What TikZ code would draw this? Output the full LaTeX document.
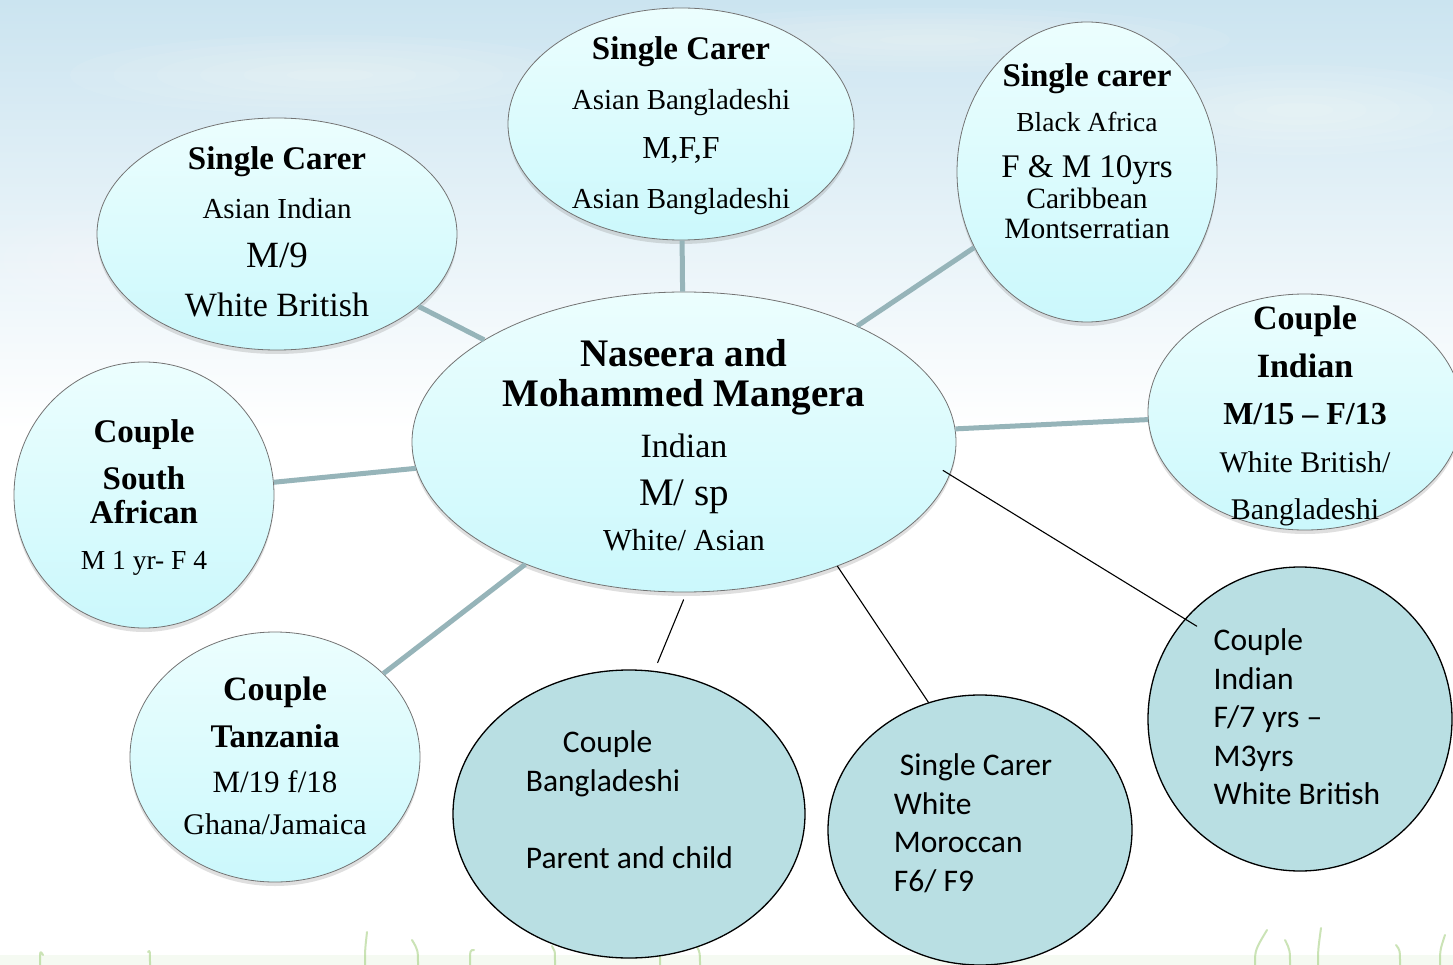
\documentclass[tikz,border=0pt]{standalone}
\usepackage{fontspec}
\setmainfont{Liberation Serif}
\newfontfamily\calibrifont{Carlito}
\usetikzlibrary{shapes.geometric,shadows}
\newcommand\fsz[2]{\fontsize{#1}{#2}\selectfont}

\definecolor{skyblue}{RGB}{203,228,240}
\definecolor{nodetop}{RGB}{236,254,254}
\definecolor{nodebot}{RGB}{203,248,252}
\definecolor{darkfill}{RGB}{185,223,227}
\definecolor{spoke}{RGB}{150,180,185}
\definecolor{grass}{RGB}{140,195,95}

\begin{document}
\begin{tikzpicture}[x=1pt, y=-1pt, line cap=round, line join=round,
  lightnode/.style={ellipse, draw=black!55, line width=0.8pt,
    top color=nodetop, bottom color=nodebot,
    drop shadow={shadow xshift=0pt, shadow yshift=-4pt, opacity=0.25}},
  darknode/.style={ellipse, draw=black, line width=1.3pt, fill=darkfill},
  seriftext/.style={align=center, inner sep=0pt},
  calitext/.style={align=left, inner sep=0pt, font=\calibrifont\fsz{31.5}{38.5}},
  spokeline/.style={draw=spoke, line width=5pt, line cap=butt},
  thinline/.style={draw=black, line width=1.1pt}]

\useasboundingbox (0,0) rectangle (1453,965);
\clip (0,0) rectangle (1453,965);

% sky and grass
\fill[white] (0,0) rectangle (1453,965);
\shade[top color=skyblue, bottom color=white] (0,0) rectangle (1453,430);
\foreach \cx/\cy/\rx/\ry in {330/75/260/40, 930/40/300/32, 1300/110/200/45, 120/260/140/50}
  \foreach \k in {1,...,6}
    \fill[white, opacity=0.07] (\cx,\cy) ellipse ({\rx*\k/6} and {\ry*\k/6});
\fill[grass, opacity=0.08] (0,955) rectangle (1453,965);
\foreach \gx/\gtop/\gbend in {40/955/3, 150/952/-2, 365/932/2, 418/940/-6, 470/950/4,
    555/946/-3, 660/948/8, 700/938/-10, 1255/930/12, 1290/940/-5, 1318/928/3,
    1400/945/-4, 1440/935/5}
  \draw[grass, line width=2pt, opacity=0.45] (\gx,965) .. controls (\gx,950) .. (\gx+\gbend,\gtop);

% outer circles
\node[lightnode, minimum width=360pt, minimum height=232pt] (scIndian) at (277,234) {};
\node[lightnode, minimum width=346pt, minimum height=232pt] (scBangla) at (681,124) {};
\node[lightnode, minimum width=260pt, minimum height=300pt] (scAfrica) at (1087,172) {};
\node[lightnode, minimum width=314pt, minimum height=236pt] (cpIndian) at (1305,412) {};
\node[lightnode, minimum width=260pt, minimum height=266pt] (cpSouth) at (144,495) {};
\node[lightnode, minimum width=290pt, minimum height=250pt] (cpTanz) at (275,757) {};
\node[darknode, minimum width=352pt, minimum height=288pt] (cpBangla) at (629,814) {};
\node[darknode, minimum width=304pt, minimum height=270pt] (scMorocco) at (980,830) {};
\node[darknode, minimum width=304pt, minimum height=304pt] (cpSeven) at (1300,719) {};

% centre
\node[lightnode, minimum width=544pt, minimum height=300pt] (main) at (684,442) {};

% spokes
\foreach \n in {scIndian, scBangla, scAfrica, cpIndian, cpSouth, cpTanz}
  \draw[spokeline] (main) -- (\n);
\draw[thinline, shorten <=8pt, shorten >=9pt] (main.-89) -- (cpBangla.80);
\draw[thinline] (main.-39) -- (scMorocco.112);
\draw[thinline, shorten <=-8pt, shorten >=-14pt] (main.-7) -- (cpSeven.139);

% texts
\node[seriftext, font=\fsz{39}{40}] (mainT) at (684,445)
  {\textbf{Naseera and}\\\textbf{Mohammed Mangera}\\[11pt]{\fsz{34}{34}Indian}\\[8pt]M/ sp\\[5pt]{\fsz{30.5}{31}White/ Asian}};
\node[seriftext, font=\fsz{30}{49}] (scIndianT) at (277,232)
  {{\bfseries\fsz{33}{33}Single Carer}\\{\fsz{29}{29}Asian Indian}\\{\fsz{37}{37}M/9}\\{\fsz{34}{34}White British}};
\node[seriftext, font=\fsz{29}{49.5}] (scBanglaT) at (681,125.5)
  {{\bfseries\fsz{33}{33}Single Carer}\\Asian Bangladeshi\\{\fsz{32}{32}M,F,F}\\Asian Bangladeshi};
\node[seriftext, font=\fsz{29.5}{30}] (scAfricaT) at (1087,151)
  {{\bfseries\fsz{33}{33}Single carer}\\[15pt]{\fsz{27.5}{28}Black Africa}\\[16pt]{\fsz{33}{33}F \& M 10yrs}\\[1pt]Caribbean\\Montserratian};
\node[seriftext, font=\fsz{30}{47.5}] (cpIndianT) at (1305,416)
  {{\bfseries\fsz{34}{34}Couple}\\{\bfseries\fsz{34}{34}Indian}\\{\bfseries\fsz{32}{32}M/15 – F/13}\\White British/\\Bangladeshi};
\node[seriftext, font=\fsz{33}{34}] (cpSouthT) at (144,498)
  {\textbf{Couple}\\[13pt]\textbf{South}\\\textbf{African}\\[12pt]{\fsz{27.5}{28}M 1 yr- F 4}};
\node[seriftext, font=\fsz{30}{45}] (cpTanzT) at (275,755.5)
  {{\bfseries\fsz{34}{34}Couple}\\[2pt]{\bfseries\fsz{33}{33}Tanzania}\\{\fsz{31}{31}M/19 f/18}\\[-3pt]Ghana/Jamaica};
\node[calitext] (cpBanglaT) at (629.5,799.5)
  {\hspace*{37pt}Couple\\Bangladeshi\\[38.5pt]Parent and child};
\node[calitext] (scMoroccoT) at (973,823)
  {\hspace*{6pt}Single Carer\\White\\Moroccan\\F6/ F9};
\node[calitext] (cpSevenT) at (1297,717)
  {Couple\\Indian\\F/7 yrs –\\M3yrs\\White British};
\end{tikzpicture}
\end{document}
